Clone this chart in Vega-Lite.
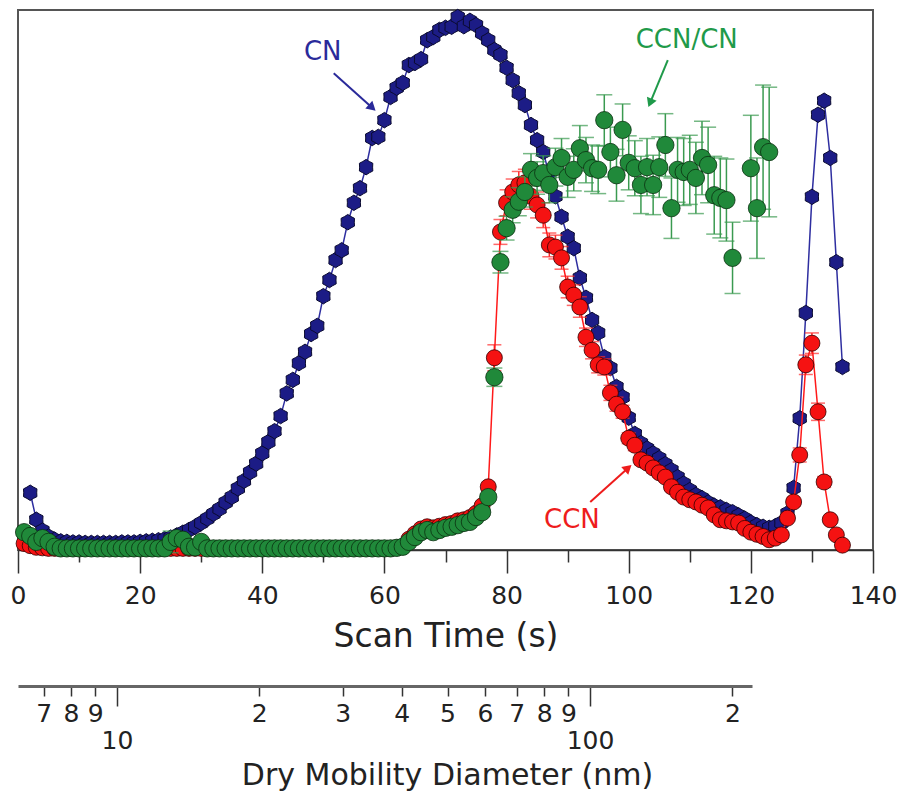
{
  "$schema": "https://vega.github.io/schema/vega-lite/v6.json",
  "width": 855,
  "height": 540,
  "autosize": "none",
  "padding": {"left": 18, "top": 10, "right": 25, "bottom": 243},
  "background": "white",
  "config": {"view": {"stroke": "#555", "strokeWidth": 2}, "font": "DejaVu Sans"},
  "datasets": {
    "cn": [
      {"t":2,"v":10.6},{"t":3,"v":5.6},{"t":4,"v":3.6},{"t":5,"v":2.5},{"t":6,"v":1.9},{"t":7,"v":1.6},{"t":8,"v":1.5},{"t":9,"v":1.4},{"t":10,"v":1.4},
      {"t":11,"v":1.3},{"t":12,"v":1.3},{"t":13,"v":1.3},{"t":14,"v":1.3},{"t":15,"v":1.3},{"t":16,"v":1.3},{"t":17,"v":1.4},{"t":18,"v":1.4},{"t":19,"v":1.4},{"t":20,"v":1.5},
      {"t":21,"v":1.6},{"t":22,"v":1.7},{"t":23,"v":1.8},{"t":24,"v":2.0},{"t":25,"v":2.3},{"t":26,"v":2.7},{"t":27,"v":3.2},{"t":28,"v":3.7},{"t":29,"v":4.3},{"t":30,"v":5.0},
      {"t":31,"v":5.8},{"t":32,"v":6.7},{"t":33,"v":7.6},{"t":34,"v":8.8},{"t":35,"v":9.8},{"t":36,"v":11.4},{"t":37,"v":12.8},{"t":38,"v":14.4},{"t":39,"v":16.0},{"t":40,"v":17.9},
      {"t":41,"v":20.0},{"t":42,"v":22.0},{"t":43,"v":24.8},{"t":44,"v":29.0},{"t":45,"v":31.5},{"t":46,"v":34.6},{"t":47,"v":36.7},{"t":48,"v":40.0},{"t":49,"v":41.5},{"t":50,"v":47.0},
      {"t":51,"v":50.0},{"t":52,"v":53.7},{"t":53,"v":55.5},{"t":54,"v":60.7},{"t":55,"v":64.3},{"t":56,"v":67.0},{"t":57,"v":70.9},{"t":58,"v":76.3},{"t":59,"v":76.5},{"t":60,"v":79.6},
      {"t":61,"v":83.9},{"t":62,"v":85.6},{"t":63,"v":86.5},{"t":64,"v":89.8},{"t":65,"v":90.2},{"t":66,"v":90.9},{"t":67,"v":94.4},{"t":68,"v":95.0},{"t":69,"v":96.3},{"t":70,"v":96.7},
      {"t":71,"v":96.9},{"t":72,"v":98.7},{"t":73,"v":97.0},{"t":74,"v":98.0},{"t":75,"v":97.2},{"t":76,"v":95.7},{"t":77,"v":94.4},{"t":78,"v":92.6},{"t":79,"v":91.7},{"t":80,"v":89.3},
      {"t":81,"v":87.0},{"t":82,"v":84.6},{"t":83,"v":82.4},{"t":84,"v":78.7},{"t":85,"v":75.9},{"t":86,"v":73.7},{"t":87,"v":69.5},{"t":88,"v":65.5},{"t":89,"v":61.7},{"t":90,"v":58.0},
      {"t":91,"v":55.9},{"t":92,"v":50.4},{"t":93,"v":46.7},{"t":94,"v":42.6},{"t":95,"v":40.2},{"t":96,"v":35.7},{"t":97,"v":33.7},{"t":98,"v":30.2},{"t":99,"v":28.3},{"t":100,"v":24.5},
      {"t":101,"v":21.5},{"t":102,"v":19.8},{"t":103,"v":18.8},{"t":104,"v":17.9},{"t":105,"v":17.0},{"t":106,"v":15.9},{"t":107,"v":14.8},{"t":108,"v":13.5},{"t":109,"v":12.3},{"t":110,"v":11.1},
      {"t":111,"v":10.2},{"t":112,"v":9.6},{"t":113,"v":8.8},{"t":114,"v":8.2},{"t":115,"v":7.9},{"t":116,"v":7.4},{"t":117,"v":7.0},{"t":118,"v":6.4},{"t":119,"v":5.8},{"t":120,"v":5.1},
      {"t":121,"v":4.6},{"t":122,"v":4.3},{"t":123,"v":4.1},{"t":124,"v":4.4},{"t":125,"v":5.0},{"t":126,"v":6.8},{"t":127,"v":11.5},{"t":128,"v":24.4},{"t":129,"v":43.9},{"t":130,"v":65.4},
      {"t":131,"v":80.6},{"t":132,"v":83.2},{"t":133,"v":72.6},{"t":134,"v":53.3},{"t":135,"v":33.9}
    ],
    "ccn": [
      {"t":1,"v":1.2,"e":0.3},{"t":2,"v":0.8,"e":0.3},{"t":3,"v":0.5,"e":0.2},{"t":4,"v":0.4,"e":0.2},{"t":5,"v":0.3,"e":0.1},{"t":6,"v":0.3,"e":0.1},{"t":7,"v":0.3,"e":0.1},{"t":8,"v":0.3,"e":0.1},{"t":9,"v":0.3,"e":0.1},{"t":10,"v":0.3,"e":0.1},
      {"t":11,"v":0.3,"e":0.1},{"t":12,"v":0.3,"e":0.1},{"t":13,"v":0.3,"e":0.1},{"t":14,"v":0.3,"e":0.1},{"t":15,"v":0.3,"e":0.1},{"t":16,"v":0.3,"e":0.1},{"t":17,"v":0.3,"e":0.1},{"t":18,"v":0.3,"e":0.1},{"t":19,"v":0.3,"e":0.1},{"t":20,"v":0.3,"e":0.1},
      {"t":21,"v":0.3,"e":0.1},{"t":22,"v":0.3,"e":0.1},{"t":23,"v":0.3,"e":0.1},{"t":24,"v":0.3,"e":0.1},{"t":25,"v":0.3,"e":0.1},{"t":26,"v":0.3,"e":0.1},{"t":27,"v":0.3,"e":0.1},{"t":28,"v":0.3,"e":0.1},{"t":29,"v":0.3,"e":0.1},{"t":30,"v":0.3,"e":0.1},
      {"t":31,"v":0.3,"e":0.1},{"t":32,"v":0.3,"e":0.1},{"t":33,"v":0.3,"e":0.1},{"t":34,"v":0.3,"e":0.1},{"t":35,"v":0.3,"e":0.1},{"t":36,"v":0.3,"e":0.1},{"t":37,"v":0.3,"e":0.1},{"t":38,"v":0.3,"e":0.1},{"t":39,"v":0.3,"e":0.1},{"t":40,"v":0.3,"e":0.1},
      {"t":41,"v":0.3,"e":0.1},{"t":42,"v":0.3,"e":0.1},{"t":43,"v":0.3,"e":0.1},{"t":44,"v":0.3,"e":0.1},{"t":45,"v":0.3,"e":0.1},{"t":46,"v":0.3,"e":0.1},{"t":47,"v":0.3,"e":0.1},{"t":48,"v":0.3,"e":0.1},{"t":49,"v":0.3,"e":0.1},{"t":50,"v":0.3,"e":0.1},
      {"t":51,"v":0.3,"e":0.1},{"t":52,"v":0.3,"e":0.1},{"t":53,"v":0.3,"e":0.1},{"t":54,"v":0.3,"e":0.1},{"t":55,"v":0.3,"e":0.1},{"t":56,"v":0.3,"e":0.1},{"t":57,"v":0.3,"e":0.1},{"t":58,"v":0.3,"e":0.1},{"t":59,"v":0.3,"e":0.1},{"t":60,"v":0.3,"e":0.1},
      {"t":61,"v":0.3,"e":0.1},{"t":62,"v":0.4,"e":0.1},{"t":63,"v":0.6,"e":0.2},{"t":64,"v":2.0,"e":0.4},{"t":65,"v":3.0,"e":0.4},{"t":66,"v":3.9,"e":0.5},{"t":67,"v":4.3,"e":0.5},{"t":68,"v":4.1,"e":0.5},{"t":69,"v":4.4,"e":0.5},{"t":70,"v":4.7,"e":0.5},
      {"t":71,"v":4.9,"e":0.5},{"t":72,"v":5.4,"e":0.5},{"t":73,"v":5.6,"e":0.5},{"t":74,"v":6.0,"e":0.6},{"t":75,"v":6.8,"e":0.6},{"t":76,"v":8.2,"e":0.6},{"t":77,"v":11.7,"e":0.8},{"t":78,"v":35.6,"e":2.4},{"t":79,"v":58.9,"e":2.3},{"t":80,"v":64.3,"e":2.4},
      {"t":81,"v":66.3,"e":2.4},{"t":82,"v":67.6,"e":2.5},{"t":83,"v":68.0,"e":2.5},{"t":84,"v":65.5,"e":2.4},{"t":85,"v":63.9,"e":2.4},{"t":86,"v":62.0,"e":2.3},{"t":87,"v":56.5,"e":2.2},{"t":88,"v":56.1,"e":2.2},{"t":89,"v":54.1,"e":2.1},{"t":90,"v":48.7,"e":2.0},
      {"t":91,"v":47.2,"e":1.9},{"t":92,"v":45.0,"e":1.9},{"t":93,"v":39.4,"e":1.7},{"t":94,"v":37.0,"e":1.6},{"t":95,"v":34.3,"e":1.5},{"t":96,"v":33.9,"e":1.5},{"t":97,"v":29.1,"e":1.4},{"t":98,"v":27.0,"e":1.3},{"t":99,"v":25.6,"e":1.2},{"t":100,"v":20.7,"e":1.0},
      {"t":101,"v":19.4,"e":1.0},{"t":102,"v":16.7,"e":0.9},{"t":103,"v":16.1,"e":0.9},{"t":104,"v":15.2,"e":0.9},{"t":105,"v":14.3,"e":0.8},{"t":106,"v":13.5,"e":0.8},{"t":107,"v":11.7,"e":0.7},{"t":108,"v":10.7,"e":0.7},{"t":109,"v":9.8,"e":0.7},{"t":110,"v":9.3,"e":0.6},
      {"t":111,"v":8.9,"e":0.6},{"t":112,"v":8.3,"e":0.6},{"t":113,"v":7.8,"e":0.6},{"t":114,"v":6.5,"e":0.5},{"t":115,"v":5.6,"e":0.5},{"t":116,"v":5.4,"e":0.5},{"t":117,"v":5.2,"e":0.5},{"t":118,"v":5.0,"e":0.5},{"t":119,"v":4.0,"e":0.4},{"t":120,"v":3.3,"e":0.4},
      {"t":121,"v":2.9,"e":0.4},{"t":122,"v":2.5,"e":0.4},{"t":123,"v":1.9,"e":0.3},{"t":124,"v":2.2,"e":0.3},{"t":125,"v":2.8,"e":0.4},{"t":126,"v":5.9,"e":0.6},{"t":127,"v":8.9,"e":0.8},{"t":128,"v":17.6,"e":1.3},{"t":129,"v":34.3,"e":1.8},{"t":130,"v":38.3,"e":1.9},
      {"t":131,"v":25.6,"e":1.6},{"t":132,"v":12.6,"e":1.0},{"t":133,"v":5.6,"e":0.6},{"t":134,"v":2.8,"e":0.4},{"t":135,"v":0.9,"e":0.2}
    ],
    "ratio": [
      {"t":1,"v":3.3,"e":0.4},{"t":2,"v":2.6,"e":0.4},{"t":3,"v":1.5,"e":0.3},{"t":4,"v":2.2,"e":0.3},{"t":5,"v":1.5,"e":0.3},{"t":6,"v":0.6,"e":0.2},{"t":7,"v":0.3,"e":0.1},{"t":8,"v":0.3,"e":0.1},{"t":9,"v":0.3,"e":0.1},{"t":10,"v":0.3,"e":0.1},
      {"t":11,"v":0.3,"e":0.1},{"t":12,"v":0.3,"e":0.1},{"t":13,"v":0.3,"e":0.1},{"t":14,"v":0.3,"e":0.1},{"t":15,"v":0.3,"e":0.1},{"t":16,"v":0.3,"e":0.1},{"t":17,"v":0.3,"e":0.1},{"t":18,"v":0.3,"e":0.1},{"t":19,"v":0.3,"e":0.1},{"t":20,"v":0.3,"e":0.1},
      {"t":21,"v":0.3,"e":0.1},{"t":22,"v":0.3,"e":0.1},{"t":23,"v":0.3,"e":0.1},{"t":24,"v":0.3,"e":0.1},{"t":25,"v":1.5,"e":2.0},{"t":26,"v":2.2,"e":0.5},{"t":27,"v":1.9,"e":0.4},{"t":28,"v":0.6,"e":0.2},{"t":29,"v":0.5,"e":0.2},{"t":30,"v":1.5,"e":0.3},
      {"t":31,"v":0.3,"e":0.1},{"t":32,"v":0.3,"e":0.1},{"t":33,"v":0.3,"e":0.1},{"t":34,"v":0.3,"e":0.1},{"t":35,"v":0.3,"e":0.1},{"t":36,"v":0.3,"e":0.1},{"t":37,"v":0.3,"e":0.1},{"t":38,"v":0.3,"e":0.1},{"t":39,"v":0.3,"e":0.1},{"t":40,"v":0.3,"e":0.1},
      {"t":41,"v":0.3,"e":0.1},{"t":42,"v":0.3,"e":0.1},{"t":43,"v":0.3,"e":0.1},{"t":44,"v":0.3,"e":0.1},{"t":45,"v":0.3,"e":0.1},{"t":46,"v":0.3,"e":0.1},{"t":47,"v":0.3,"e":0.1},{"t":48,"v":0.3,"e":0.1},{"t":49,"v":0.3,"e":0.1},{"t":50,"v":0.3,"e":0.1},
      {"t":51,"v":0.3,"e":0.1},{"t":52,"v":0.3,"e":0.1},{"t":53,"v":0.3,"e":0.1},{"t":54,"v":0.3,"e":0.1},{"t":55,"v":0.3,"e":0.1},{"t":56,"v":0.3,"e":0.1},{"t":57,"v":0.3,"e":0.1},{"t":58,"v":0.3,"e":0.1},{"t":59,"v":0.3,"e":0.1},{"t":60,"v":0.3,"e":0.1},
      {"t":61,"v":0.3,"e":0.1},{"t":62,"v":0.4,"e":0.1},{"t":63,"v":0.6,"e":0.2},{"t":64,"v":1.5,"e":0.3},{"t":65,"v":2.4,"e":0.3},{"t":66,"v":3.3,"e":0.4},{"t":67,"v":3.7,"e":0.4},{"t":68,"v":3.3,"e":0.4},{"t":69,"v":3.7,"e":0.4},{"t":70,"v":4.1,"e":0.4},
      {"t":71,"v":4.3,"e":0.4},{"t":72,"v":4.6,"e":0.4},{"t":73,"v":5.0,"e":0.4},{"t":74,"v":5.2,"e":0.5},{"t":75,"v":6.1,"e":0.5},{"t":76,"v":7.0,"e":0.5},{"t":77,"v":9.8,"e":0.6},{"t":78,"v":32.0,"e":1.7},{"t":79,"v":53.3,"e":2.0},{"t":80,"v":59.6,"e":2.2},
      {"t":81,"v":63.0,"e":2.4},{"t":82,"v":64.5,"e":2.6},{"t":83,"v":66.3,"e":2.8},{"t":84,"v":70.4,"e":3.0},{"t":85,"v":68.9,"e":3.0},{"t":86,"v":69.8,"e":3.2},{"t":87,"v":67.6,"e":3.3},{"t":88,"v":70.9,"e":3.5},{"t":89,"v":72.6,"e":3.6},{"t":90,"v":69.1,"e":3.8},
      {"t":91,"v":70.4,"e":3.9},{"t":92,"v":74.4,"e":4.2},{"t":93,"v":72.2,"e":4.2},{"t":94,"v":70.7,"e":4.3},{"t":95,"v":70.4,"e":4.4},{"t":96,"v":79.6,"e":4.7},{"t":97,"v":73.7,"e":4.6},{"t":98,"v":69.4,"e":4.8},{"t":99,"v":77.8,"e":4.8},{"t":100,"v":71.7,"e":5.0},
      {"t":101,"v":70.7,"e":5.1},{"t":102,"v":67.6,"e":5.3},{"t":103,"v":70.9,"e":5.3},{"t":104,"v":67.6,"e":5.5},{"t":105,"v":70.9,"e":5.6},{"t":106,"v":75.0,"e":5.8},{"t":107,"v":63.3,"e":5.6},{"t":108,"v":70.4,"e":6.0},{"t":109,"v":70.0,"e":6.2},{"t":110,"v":70.4,"e":6.4},
      {"t":111,"v":68.9,"e":6.6},{"t":112,"v":72.6,"e":6.8},{"t":113,"v":71.3,"e":7.0},{"t":114,"v":65.7,"e":7.2},{"t":115,"v":65.2,"e":7.4},{"t":116,"v":64.8,"e":7.6},{"t":117,"v":54.1,"e":6.6},{"t":120,"v":70.7,"e":9.8},{"t":121,"v":63.3,"e":9.3},{"t":122,"v":74.6,"e":11.5},
      {"t":123,"v":73.7,"e":12.0}
    ],
    "arrows": [
      {"name":"CN","t":51.7,"v":88.3,"t2":58.0,"v2":81.9},
      {"name":"CCN/CN","t":106.4,"v":90.7,"t2":103.5,"v2":82.8},
      {"name":"CCN","t":93.7,"v":8.9,"t2":99.9,"v2":15.2}
    ],
    "labels": [
      {"name":"CN","t":49.9,"v":92.2},
      {"name":"CCN/CN","t":109.5,"v":94.4},
      {"name":"CCN","t":90.7,"v":5.6}
    ],
    "diam": [{"d":7},{"d":200}]
  },
  "layer": [
    {
      "encoding": {
        "x": {
          "field": "t", "type": "quantitative",
          "scale": {"domain": [0, 140], "nice": false, "zero": false},
          "axis": {
            "orient": "bottom",
            "values": [0,10,20,30,40,50,60,70,80,90,100,110,120,130,140],
            "labelExpr": "datum.value % 20 == 0 ? toString(datum.value) : ''",
            "tickSize": {"condition": {"test": "datum.value % 20 == 0", "value": 23}, "value": 12},
            "labelPadding": 10,
            "labelFontSize": 25, "labelFont": "DejaVu Sans", "labelColor": "#222",
            "labelFlush": false, "labelOverlap": false,
            "title": "Scan Time (s)", "titleFontSize": 33, "titleFont": "DejaVu Sans", "titleFontWeight": "normal", "titleColor": "#222", "titlePadding": 12,
            "grid": false, "domainColor": "#333", "domainWidth": 1.5, "tickColor": "#333", "tickWidth": 1.5
          }
        },
        "y": {"field": "v", "type": "quantitative", "scale": {"domain": [0, 100], "nice": false}, "axis": null}
      },
      "layer": [
        {"data": {"name": "cn"}, "mark": {"type": "line", "color": "#2e2ea0", "strokeWidth": 1.5}},
        {"data": {"name": "cn"}, "mark": {"type": "point", "shape": "M0,-1L0.42,-0.73L0.866,-0.5L0.84,0L0.866,0.5L0.42,0.73L0,1L-0.42,0.73L-0.866,0.5L-0.84,0L-0.866,-0.5L-0.42,-0.73Z", "filled": true, "color": "#1c1c86", "stroke": "#0a0a30", "strokeWidth": 1, "size": 240, "opacity": 1}},
        {"data": {"name": "ccn"}, "mark": {"type": "errorbar", "ticks": true, "size": 14, "thickness": 1.5, "color": "#ff2a2a"}, "encoding": {"yError": {"field": "e"}}},
        {"data": {"name": "ccn"}, "mark": {"type": "line", "color": "#ff1a1a", "strokeWidth": 1.5}},
        {"data": {"name": "ccn"}, "mark": {"type": "point", "shape": "circle", "filled": true, "color": "#f51212", "stroke": "#300", "strokeWidth": 0.8, "size": 256, "opacity": 1}},
        {"data": {"name": "ratio"}, "mark": {"type": "errorbar", "ticks": true, "size": 16, "thickness": 1.5, "color": "#3a9a50"}, "encoding": {"yError": {"field": "e"}}},
        {"data": {"name": "ratio"}, "mark": {"type": "point", "shape": "circle", "filled": true, "color": "#20893a", "stroke": "#0a3010", "strokeWidth": 0.8, "size": 300, "opacity": 1}},
        {"data": {"name": "arrows"}, "transform": [{"filter": "datum.name == 'CN'"}], "mark": {"type": "rule", "color": "#2a2a9a", "strokeWidth": 2}, "encoding": {"x2": {"field": "t2"}, "y2": {"field": "v2"}}},
        {"data": {"name": "arrows"}, "transform": [{"filter": "datum.name == 'CCN/CN'"}], "mark": {"type": "rule", "color": "#1f9a4a", "strokeWidth": 2}, "encoding": {"x2": {"field": "t2"}, "y2": {"field": "v2"}}},
        {"data": {"name": "arrows"}, "transform": [{"filter": "datum.name == 'CCN'"}], "mark": {"type": "rule", "color": "#ee1c1c", "strokeWidth": 2}, "encoding": {"x2": {"field": "t2"}, "y2": {"field": "v2"}}},
        {"data": {"name": "arrows"}, "transform": [{"filter": "datum.name == 'CN'"}], "mark": {"type": "point", "shape": "triangle-up", "filled": true, "color": "#2a2a9a", "size": 110, "angle": 132, "opacity": 1}, "encoding": {"x": {"field": "t2", "type": "quantitative"}, "y": {"field": "v2", "type": "quantitative"}}},
        {"data": {"name": "arrows"}, "transform": [{"filter": "datum.name == 'CCN/CN'"}], "mark": {"type": "point", "shape": "triangle-up", "filled": true, "color": "#1f9a4a", "size": 110, "angle": 202, "opacity": 1}, "encoding": {"x": {"field": "t2", "type": "quantitative"}, "y": {"field": "v2", "type": "quantitative"}}},
        {"data": {"name": "arrows"}, "transform": [{"filter": "datum.name == 'CCN'"}], "mark": {"type": "point", "shape": "triangle-up", "filled": true, "color": "#ee1c1c", "size": 110, "angle": 48, "opacity": 1}, "encoding": {"x": {"field": "t2", "type": "quantitative"}, "y": {"field": "v2", "type": "quantitative"}}},
        {"data": {"name": "labels"}, "transform": [{"filter": "datum.name == 'CN'"}], "mark": {"type": "text", "font": "DejaVu Sans", "fontSize": 26, "color": "#2a2a9a"}, "encoding": {"text": {"field": "name"}}},
        {"data": {"name": "labels"}, "transform": [{"filter": "datum.name == 'CCN/CN'"}], "mark": {"type": "text", "font": "DejaVu Sans", "fontSize": 26, "color": "#1f9a4a"}, "encoding": {"text": {"field": "name"}}},
        {"data": {"name": "labels"}, "transform": [{"filter": "datum.name == 'CCN'"}], "mark": {"type": "text", "font": "DejaVu Sans", "fontSize": 26, "color": "#ee1c1c"}, "encoding": {"text": {"field": "name"}}}
      ]
    },
    {
      "data": {"name": "diam"},
      "mark": {"type": "point", "opacity": 0},
      "encoding": {
        "x": {
          "field": "d", "type": "quantitative",
          "scale": {"type": "log", "domain": [6.18, 220], "range": [0, 734], "nice": false},
          "axis": {
            "orient": "bottom", "offset": 136,
            "values": [7,8,9,10,20,30,40,50,60,70,80,90,100,200],
            "labelExpr": "datum.value == 10 ? '10' : datum.value == 100 ? '100' : substring(toString(datum.value), 0, 1)",
            "tickSize": {"condition": {"test": "datum.value == 10 || datum.value == 100", "value": 20}, "value": 10},
            "labelPadding": {"condition": {"test": "datum.value == 10 || datum.value == 100", "value": 22}, "value": 5},
            "labelFontSize": 25, "labelFont": "DejaVu Sans", "labelColor": "#222",
            "labelFlush": false, "labelOverlap": false, "labelBound": false,
            "title": "Dry Mobility Diameter (nm)", "titleFontSize": 30, "titleFont": "DejaVu Sans", "titleFontWeight": "normal", "titleColor": "#222", "titlePadding": 7,
            "titleX": 429, "titleAlign": "center",
            "grid": false, "domainColor": "#666", "domainWidth": 3, "tickColor": "#333", "tickWidth": 1.5
          }
        }
      }
    }
  ],
  "resolve": {"scale": {"x": "independent"}, "axis": {"x": "independent"}}
}
